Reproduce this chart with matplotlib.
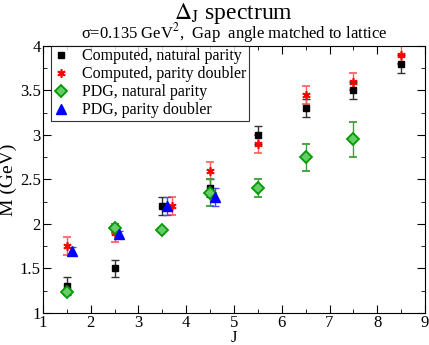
import matplotlib
matplotlib.use("Agg")
import matplotlib.pyplot as plt
from matplotlib.ticker import MultipleLocator
from matplotlib.lines import Line2D

plt.rcParams['font.family'] = ['Liberation Serif', 'DejaVu Serif']
plt.rcParams['mathtext.fontset'] = 'stix'

# Computed, natural parity
cn_J = [1.5, 2.5, 3.5, 4.5, 5.5, 6.5, 7.5, 8.5]
cn_M = [1.3, 1.5, 2.2, 2.4, 3.0, 3.3, 3.5, 3.8]
cn_err = [0.1, 0.1, 0.1, 0.1, 0.1, 0.1, 0.1, 0.1]

# Computed, parity doubler
cd_J = [1.5, 2.5, 3.7, 4.5, 5.5, 6.5, 7.5, 8.5]
cd_M = [1.75, 1.9, 2.2, 2.6, 2.9, 3.45, 3.6, 3.9]
cd_err = [0.1, 0.1, 0.1, 0.1, 0.1, 0.1, 0.1, 0.1]

# PDG, natural parity
pn_J = [1.5, 2.5, 3.5, 4.5, 5.5, 6.5, 7.5]
pn_M = [1.232, 1.95, 1.93, 2.35, 2.4, 2.75, 2.95]
pn_err = [0.01, 0.05, 0.02, 0.15, 0.1, 0.15, 0.2]

# PDG, parity doubler
pd_J = [1.6, 2.6, 3.6, 4.6]
pd_M = [1.7, 1.89, 2.2, 2.3]
pd_err = [0.04, 0.03, 0.1, 0.1]

labels = ['Computed, natural parity', 'Computed, parity doubler',
          'PDG, natural parity', 'PDG, parity doubler']

fig = plt.figure(figsize=(4.29, 3.45), dpi=100)
ax = fig.add_axes([0.1002, 0.0928, 0.8905, 0.7739])

ekw = dict(linestyle='none', capsize=3, elinewidth=1.0, capthick=1.0)
sty = [
    dict(marker='s', ms=4, color='black', mec='black'),
    dict(marker=(6, 2, 0), ms=6, mew=1.2, color='red', mec='red'),
    dict(marker='D', ms=6, mfc='#66cc66', mec='#009900', mew=1.3, color='#009900'),
    dict(marker='^', ms=7, color='blue', mec='blue'),
]
ecols = ['#333333', '#ff5a5a', '#3aa03a', '#4848ff']
data = [(cn_J, cn_M, cn_err), (cd_J, cd_M, cd_err), (pn_J, pn_M, pn_err), (pd_J, pd_M, pd_err)]
for (xs, ys, es), s, ec in zip(data, sty, ecols):
    ax.errorbar(xs, ys, yerr=es, ecolor=ec, **s, **ekw)

ax.set_xlim(1, 9)
ax.set_ylim(1, 4)
ax.xaxis.set_major_locator(MultipleLocator(1))
ax.xaxis.set_minor_locator(MultipleLocator(0.5))
ax.yaxis.set_minor_locator(MultipleLocator(0.25))
ax.set_yticks([1, 1.5, 2, 2.5, 3, 3.5, 4])
ax.set_yticklabels(['1', '1.5', '2', '2.5', '3', '3.5', '4'])
ax.tick_params(which='both', direction='in', top=True, right=True, labelsize=12, pad=1.5)
ax.tick_params(which='major', length=6)
ax.tick_params(which='minor', length=3)

ax.set_xlabel('J', fontsize=12, labelpad=-1)
ax.set_ylabel('M (GeV)', fontsize=14, labelpad=2)

fig.text(0.545, 0.962, r'$\Delta_{\rm J}$ spectrum', ha='center', va='center', fontsize=17)
fig.text(0.545, 0.905, r'σ=0.135 GeV$^2$,  Gap  angle matched to lattice', ha='center',
         va='center', fontsize=12)

handles = [Line2D([], [], linestyle='none', **s) for s in sty]
leg = ax.legend(handles, labels, loc='upper left', bbox_to_anchor=(0.021, 1.0),
                fontsize=11.5, frameon=True, fancybox=False,
                edgecolor='black', handlelength=1.0, handletextpad=0.8,
                borderaxespad=0.0, labelspacing=0.12, borderpad=0.15)
leg.get_frame().set_linewidth(0.8)

fig.savefig('out.png', dpi=100)
